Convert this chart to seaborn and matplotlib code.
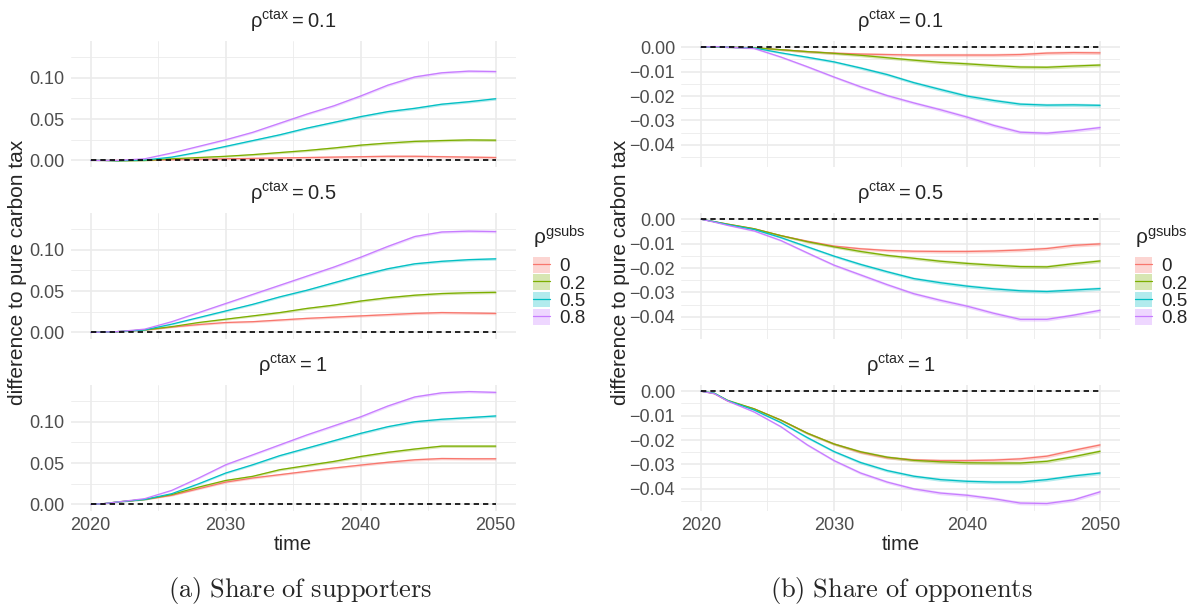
import numpy as np
import pandas as pd
import seaborn as sns
import matplotlib
matplotlib.use("Agg")
import matplotlib.pyplot as plt
from matplotlib.lines import Line2D
from matplotlib.patches import Patch
from matplotlib.ticker import FixedLocator, FixedFormatter, MultipleLocator

# ? Dados
years = [2020, 2021, 2022, 2024, 2026, 2028, 2030, 2032, 2034, 2036, 2038, 2040, 2042, 2044, 2046, 2048, 2050]
gsubs_levels = ["0", "0.2", "0.5", "0.8"]
ctax_levels = ["0.1", "0.5", "1"]
colors = ["#F8766D", "#7CAE00", "#00BFC4", "#C77CFF"]

# share of supporters, one list per gsubs level (0, 0.2, 0.5, 0.8)
sup_ctax_01 = [
    [0, 0, 0, 0.0003, 0.001, 0.0015, 0.002, 0.0025, 0.003, 0.0035, 0.004, 0.0045, 0.005, 0.005, 0.0045, 0.004, 0.0035],
    [0, 0, -0.0005, 0, 0.002, 0.0035, 0.005, 0.007, 0.0095, 0.012, 0.015, 0.0185, 0.021, 0.023, 0.024, 0.0248, 0.0245],
    [0, 0, -0.0003, 0.0005, 0.004, 0.010, 0.017, 0.024, 0.031, 0.039, 0.046, 0.053, 0.059, 0.063, 0.068, 0.071, 0.0746],
    [0, 0, 0, 0.002, 0.009, 0.017, 0.025, 0.034, 0.045, 0.056, 0.066, 0.078, 0.091, 0.101, 0.106, 0.108, 0.1075],
]
sup_ctax_05 = [
    [0, 0.0005, 0.001, 0.003, 0.0065, 0.0095, 0.012, 0.013, 0.015, 0.017, 0.0185, 0.02, 0.0215, 0.023, 0.024, 0.0235, 0.023],
    [0, 0.0005, 0.001, 0.003, 0.007, 0.012, 0.016, 0.02, 0.024, 0.029, 0.033, 0.038, 0.042, 0.045, 0.047, 0.048, 0.0485],
    [0, 0.0005, 0.001, 0.003, 0.01, 0.018, 0.026, 0.034, 0.043, 0.051, 0.06, 0.069, 0.077, 0.083, 0.086, 0.088, 0.089],
    [0, 0.0005, 0.001, 0.004, 0.013, 0.024, 0.035, 0.046, 0.057, 0.068, 0.079, 0.091, 0.104, 0.116, 0.1215, 0.1225, 0.122],
]
sup_ctax_1 = [
    [0, 0.001, 0.003, 0.006, 0.011, 0.019, 0.027, 0.032, 0.036, 0.040, 0.044, 0.0476, 0.051, 0.054, 0.0555, 0.0552, 0.0552],
    [0, 0.001, 0.003, 0.006, 0.012, 0.021, 0.029, 0.034, 0.042, 0.047, 0.052, 0.058, 0.063, 0.067, 0.0705, 0.0705, 0.0705],
    [0, 0.001, 0.003, 0.006, 0.013, 0.025, 0.038, 0.048, 0.059, 0.068, 0.077, 0.086, 0.094, 0.1, 0.103, 0.105, 0.107],
    [0, 0.001, 0.003, 0.007, 0.017, 0.032, 0.048, 0.06, 0.072, 0.084, 0.095, 0.106, 0.119, 0.13, 0.135, 0.1365, 0.1355],
]

# share of opponents
opp_ctax_01 = [
    [0, 0.0002, 0, -0.0002, -0.001, -0.0018, -0.0024, -0.0028, -0.003, -0.0032, -0.0032, -0.0032, -0.0032, -0.003, -0.0024, -0.0022, -0.0023],
    [0, 0.0002, 0, -0.0002, -0.001, -0.0018, -0.0025, -0.0033, -0.0043, -0.0053, -0.0062, -0.0068, -0.0075, -0.0081, -0.0082, -0.0077, -0.0073],
    [0, 0.0002, 0, -0.0003, -0.0023, -0.0041, -0.006, -0.0085, -0.0112, -0.0145, -0.0173, -0.02, -0.0218, -0.0233, -0.0237, -0.0236, -0.0238],
    [0, 0.0003, 0, -0.0005, -0.004, -0.008, -0.0122, -0.0162, -0.0198, -0.0228, -0.0256, -0.0286, -0.032, -0.0348, -0.0352, -0.0342, -0.0329],
]
opp_ctax_05 = [
    [0, -0.001, -0.002, -0.0039, -0.0067, -0.009, -0.011, -0.0121, -0.0128, -0.0131, -0.0132, -0.0132, -0.013, -0.0126, -0.012, -0.0107, -0.0101],
    [0, -0.001, -0.002, -0.0039, -0.0067, -0.0092, -0.0113, -0.0132, -0.0148, -0.016, -0.0172, -0.0181, -0.0188, -0.0194, -0.0195, -0.0182, -0.0171],
    [0, -0.001, -0.0022, -0.0042, -0.0075, -0.0113, -0.0151, -0.0185, -0.0215, -0.0243, -0.026, -0.0274, -0.0285, -0.0293, -0.0296, -0.029, -0.0284],
    [0, -0.0012, -0.0025, -0.0048, -0.0087, -0.0138, -0.0188, -0.0228, -0.0268, -0.0305, -0.0332, -0.0356, -0.0385, -0.041, -0.041, -0.0393, -0.0373],
]
opp_ctax_1 = [
    [0, -0.001, -0.004, -0.0072, -0.0118, -0.0172, -0.0216, -0.025, -0.0272, -0.0281, -0.0284, -0.0284, -0.0282, -0.0277, -0.0266, -0.0242, -0.022],
    [0, -0.0008, -0.0037, -0.0072, -0.0118, -0.0172, -0.0216, -0.0248, -0.027, -0.0283, -0.0289, -0.0293, -0.0294, -0.0294, -0.0287, -0.0268, -0.0246],
    [0, -0.0008, -0.0038, -0.0077, -0.0128, -0.019, -0.0247, -0.0292, -0.0325, -0.0348, -0.0362, -0.0369, -0.0372, -0.0372, -0.0362, -0.0347, -0.0335],
    [0, -0.001, -0.004, -0.0085, -0.0145, -0.022, -0.0284, -0.0335, -0.0372, -0.04, -0.0417, -0.0426, -0.044, -0.0458, -0.046, -0.0445, -0.0412],
]

# half width of the confidence ribbon
band_sup = [0, 0.0003, 0.0005, 0.0007, 0.0009, 0.0011, 0.0012, 0.0013, 0.0014, 0.0014, 0.0015, 0.0015, 0.0016, 0.0016, 0.0016, 0.0016, 0.0016]
band_opp = [0, 0.0001, 0.0002, 0.0003, 0.0004, 0.0005, 0.0005, 0.0006, 0.0006, 0.0006, 0.0007, 0.0007, 0.0007, 0.0007, 0.0007, 0.0007, 0.0007]

xticks = [2020, 2030, 2040, 2050]
xticklabels = ["2020", "2030", "2040", "2050"]
sup_yticks = [0.0, 0.05, 0.10]
sup_yticklabels = ["0.00", "0.05", "0.10"]
opp_yticks = [0.0, -0.01, -0.02, -0.03, -0.04]
opp_yticklabels = ["0.00", "\u22120.01", "\u22120.02", "\u22120.03", "\u22120.04"]

# ? Montando tabela longa
rows = []
panels = {
    "sup": [sup_ctax_01, sup_ctax_05, sup_ctax_1],
    "opp": [opp_ctax_01, opp_ctax_05, opp_ctax_1],
}
bands = {"sup": band_sup, "opp": band_opp}
for panel, facets in panels.items():
    for ctax, series in zip(ctax_levels, facets):
        for g, vals in zip(gsubs_levels, series):
            for t, v, b in zip(years, vals, bands[panel]):
                rows.append({"panel": panel, "ctax": ctax, "gsubs": g,
                             "time": t, "diff": v, "lo": v - b, "hi": v + b})
df = pd.DataFrame(rows)

# ? Estilo
sns.set_theme(style="white")
plt.rcParams["font.family"] = ["Liberation Sans", "DejaVu Sans"]
plt.rcParams["axes.unicode_minus"] = True

W, H = 1197, 610
fig = plt.figure(figsize=(W / 100, H / 100), dpi=100)
fig.patch.set_facecolor("white")

panel_x = {"sup": (70.5, 516), "opp": (681, 1120)}
ylab_x = {"sup": 18, "opp": 620}
facet_y = [(40.5, 167), (212.5, 339), (384.5, 511)]
ticks = {"sup": (sup_yticks, sup_yticklabels, 0.025), "opp": (opp_yticks, opp_yticklabels, 0.005)}

for panel in ["sup", "opp"]:
    pdf = df[df["panel"] == panel]
    lo, hi = pdf["lo"].min(), pdf["hi"].max()
    pad = (hi - lo) * 0.05
    x0, x1 = panel_x[panel]
    for i, ctax in enumerate(ctax_levels):
        y0, y1 = facet_y[i]
        ax = fig.add_axes([x0 / W, 1 - y1 / H, (x1 - x0) / W, (y1 - y0) / H])
        sub = pdf[pdf["ctax"] == ctax]
        for g, c in zip(gsubs_levels, colors):
            s = sub[sub["gsubs"] == g]
            ax.fill_between(s["time"], s["lo"], s["hi"], color=c, alpha=0.3, lw=0)
        sns.lineplot(data=sub, x="time", y="diff", hue="gsubs", hue_order=gsubs_levels,
                     palette=colors, legend=False, errorbar=None, lw=0.9, ax=ax)
        ax.plot([2020, 2050], [0, 0], color="black", lw=1.2, ls=(0, (3.2, 2.4)))

        ax.set_xlim(2018.5, 2051.5)
        ax.set_ylim(lo - pad, hi + pad)
        yt, ytl, ymin = ticks[panel]
        ax.yaxis.set_major_locator(FixedLocator(yt))
        ax.yaxis.set_major_formatter(FixedFormatter(ytl))
        ax.yaxis.set_minor_locator(MultipleLocator(ymin))
        ax.xaxis.set_major_locator(FixedLocator(xticks))
        ax.xaxis.set_minor_locator(MultipleLocator(5))
        if i == 2:
            ax.xaxis.set_major_formatter(FixedFormatter(xticklabels))
        else:
            ax.set_xticklabels([])
        ax.grid(which="major", color="#EBEBEB", lw=1.2)
        ax.grid(which="minor", color="#EBEBEB", lw=0.6)
        ax.set_axisbelow(True)
        for sp in ax.spines.values():
            sp.set_visible(False)
        ax.tick_params(which="both", length=0, labelsize=13, labelcolor="#4D4D4D", pad=4.3)
        ax.set_xlabel("")
        ax.set_ylabel("")
        ax.set_title(r"$\mathregular{\rho^{ctax} = %s}$" % ctax, fontsize=14.5, pad=9)

    xc = (x0 + x1) / 2
    fig.text(xc / W, 1 - 545 / H, "time", ha="center", va="center", fontsize=14.5)
    fig.text(ylab_x[panel] / W, 1 - 272 / H, "difference to pure carbon tax",
             rotation=90, ha="center", va="center", fontsize=15)

# ? Legendas
handles = [(Patch(facecolor=c, alpha=0.3, lw=0), Line2D([], [], color=c, lw=0.9)) for c in colors]
for lx in [533, 1135]:
    fig.text(lx / W, 1 - 237 / H, r"$\mathregular{\rho^{gsubs}}$", fontsize=15,
             ha="left", va="center")
    fig.legend(handles, gsubs_levels, loc="upper left", bbox_to_anchor=(lx / W, 1 - 257 / H),
               frameon=False, borderpad=0, handlelength=0.9, handleheight=0.9,
               labelspacing=-0.05, handletextpad=0.5, fontsize=13.5, borderaxespad=0)

# ? Legendas das figuras
fig.text(300 / W, 1 - 590 / H, r"$\mathrm{(a)\ Share\ of\ supporters}$", math_fontfamily="cm",
         ha="center", va="center", fontsize=19)
fig.text(901 / W, 1 - 590 / H, r"$\mathrm{(b)\ Share\ of\ opponents}$", math_fontfamily="cm",
         ha="center", va="center", fontsize=19)

fig.savefig("out.png", dpi=100, facecolor="white")
